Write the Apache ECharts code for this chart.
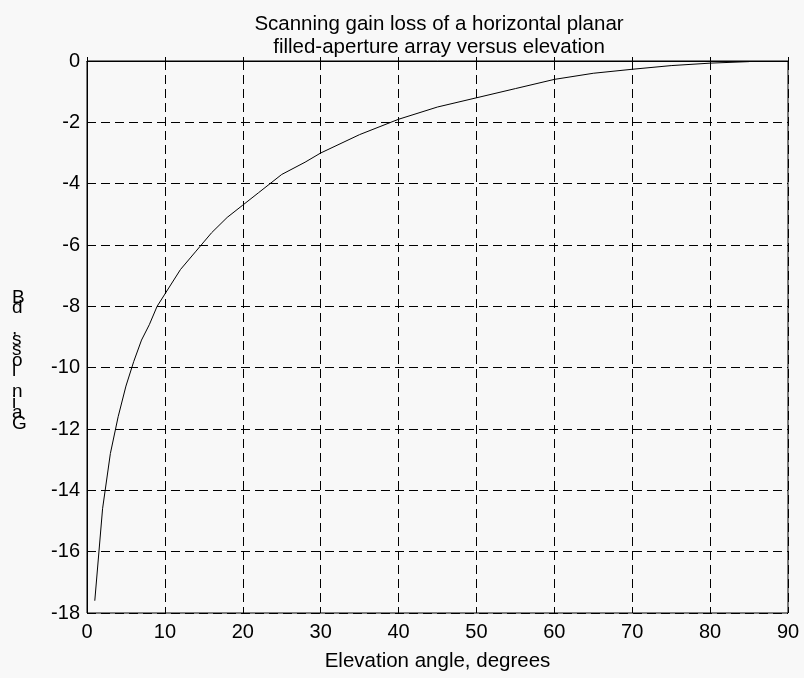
<!DOCTYPE html>
<html>
<head>
<meta charset="utf-8">
<script src="https://cdn.jsdelivr.net/npm/echarts@6/dist/echarts.min.js"></script>
<style>html,body{margin:0;padding:0;background:#f8f8f8;}#c{width:804px;height:678px;}</style>
</head>
<body>
<div id="c"></div>
<script>
var titleLines = ['Scanning gain loss of a horizontal planar', 'filled-aperture array versus elevation'];
var xAxisName = 'Elevation angle, degrees';
var yAxisName = 'Gain loss, dB';
var elevation = [1, 2, 3, 4, 5, 6, 7, 8, 9, 10, 12, 14, 15, 16, 18, 20, 22, 25, 28, 30, 35, 40, 45, 50, 55, 60, 65, 70, 75, 80, 85];
var gainLoss = [-17.6, -14.6, -12.8, -11.6, -10.6, -9.8, -9.1, -8.6, -8.0, -7.6, -6.8, -6.2, -5.9, -5.6, -5.1, -4.7, -4.3, -3.7, -3.3, -3.0, -2.4, -1.9, -1.5, -1.2, -0.9, -0.6, -0.4, -0.27, -0.15, -0.07, -0.02];
var xTicks = [0, 10, 20, 30, 40, 50, 60, 70, 80, 90];
var yTicks = [0, -2, -4, -6, -8, -10, -12, -14, -16, -18];

var FONT = '"Liberation Sans", Arial, sans-serif';
var chart = echarts.init(document.getElementById('c'), null, {renderer: 'canvas'});
// the reference shows the y label garbled: characters stacked top to bottom in reverse order
var stacked = yAxisName.split('').reverse().join('\n');

chart.setOption({
  backgroundColor: '#f8f8f8',
  animation: false,
  title: {
    text: titleLines.join('\n'),
    left: 434, top: 8, textAlign: 'center',
    textStyle: {fontFamily: FONT, fontSize: 20.5, fontWeight: 'normal', color: '#000', lineHeight: 23}
  },
  grid: {left: 87, top: 61, right: 16, bottom: 65, show: true, borderColor: '#000', borderWidth: 1, backgroundColor: 'transparent'},
  xAxis: {
    type: 'value', min: 0, max: 90, interval: 10,
    name: xAxisName, nameLocation: 'middle', nameGap: 38,
    nameTextStyle: {fontFamily: FONT, fontSize: 20.5, color: '#000'},
    axisLine: {show: true, lineStyle: {color: '#000', width: 1}},
    axisTick: {show: true, inside: true, length: 4, lineStyle: {color: '#000'}},
    axisLabel: {fontFamily: FONT, fontSize: 20, color: '#000', margin: 9,
      formatter: function (v) { return xTicks.indexOf(v) >= 0 ? String(v) : ''; }},
    splitLine: {show: true, lineStyle: {color: '#000', type: [9, 5], width: 1}}
  },
  yAxis: {
    type: 'value', min: -18, max: 0, interval: 2,
    axisLine: {show: true, lineStyle: {color: '#000', width: 1}},
    axisTick: {show: true, inside: true, length: 4, lineStyle: {color: '#000'}},
    axisLabel: {fontFamily: FONT, fontSize: 20, color: '#000', margin: 7,
      formatter: function (v) { return yTicks.indexOf(v) >= 0 ? String(v) : ''; }},
    splitLine: {show: true, lineStyle: {color: '#000', type: [9, 5], width: 1}}
  },
  graphic: [{
    type: 'text', left: 12, top: 288,
    style: {text: stacked, fontFamily: FONT, fontSize: 19, lineHeight: 10.5, fill: '#000', textAlign: 'left'}
  }],
  series: [{
    type: 'line',
    data: elevation.map(function (e, i) { return [e, gainLoss[i]]; }),
    showSymbol: false, symbol: 'none',
    lineStyle: {color: '#000', width: 1},
    smooth: false
  }]
});
</script>
</body>
</html>
